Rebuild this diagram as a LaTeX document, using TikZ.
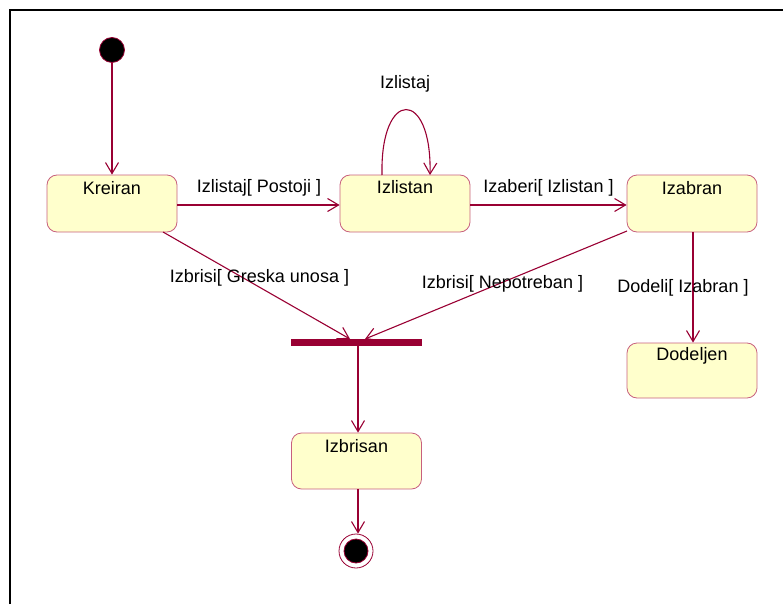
\documentclass[tikz,border=0pt]{standalone}
\usepackage{fontspec}
\setmainfont{Liberation Sans}
\usetikzlibrary{arrows.meta}
\definecolor{umlline}{HTML}{990033}
\definecolor{umlborder}{HTML}{C8607E}
\definecolor{umlfill}{HTML}{FFFFCC}
\tikzset{
  statebox/.style={draw=umlborder, fill=umlfill, rounded corners=10pt, line width=0.8pt, minimum width=130pt, minimum height=57pt, inner sep=0pt},
  statename/.style={anchor=base, inner sep=0pt, font=\fontsize{18pt}{21pt}\selectfont},
  translabel/.style={anchor=base, inner sep=0pt, font=\fontsize{18pt}{21pt}\selectfont},
  trans/.style={draw=umlline, line width=1.1pt, -{Straight Barb[length=11pt,width=13pt,line width=1.1pt]}},
}
\begin{document}
\begin{tikzpicture}[x=1pt,y=-1pt]
\useasboundingbox (0,0) rectangle (783,604);
% frame
\draw[line width=2.6pt, black] (10,604) -- (10,10) -- (783,10);
% initial
\node[circle, fill=black, draw=umlline, line width=0.8pt, minimum size=25pt, inner sep=0pt] (init) at (112,50) {};
% states
\node[statebox] (kreiran) at (112,203.5) {};
\node[statename] (kreiranT) at (112,194) {Kreiran};
\node[statebox] (izlistan) at (405,203.5) {};
\node[statename] (izlistanT) at (405,193) {Izlistan};
\node[statebox] (izabran) at (692,203.5) {};
\node[statename] (izabranT) at (692,194) {Izabran};
\node[statebox, minimum height=55pt] (dodeljen) at (692,370.5) {};
\node[statename] (dodeljenT) at (692,360) {Dodeljen};
\node[statebox, minimum height=56pt] (izbrisan) at (356.5,461) {};
\node[statename] (izbrisanT) at (356.5,452) {Izbrisan};
% sync bar
\node[fill=umlline, minimum width=131pt, minimum height=7pt, inner sep=0pt] (bar) at (356.5,342.5) {};
% final
\node[circle, draw=umlline, fill=white, line width=0.8pt, minimum size=34pt, inner sep=0pt] (final) at (356,551) {};
\node[circle, fill=black, draw=umlline, line width=0.8pt, minimum size=24pt, inner sep=0pt] (finalIn) at (356,551) {};
% coordinates
\coordinate (kB) at (163,232);
\coordinate (barL) at (350,339);
\coordinate (barR) at (365,339);
\coordinate (zB) at (627,231);
\coordinate (loopS) at (382,175);
\coordinate (loopE) at (430,175);
% transitions
\draw[trans] (init) -- (kreiran);
\draw[trans] (kreiran.east |- 0,205) -- (izlistan.west |- 0,205);
\draw[trans] (izlistan.east |- 0,205) -- (izabran.west |- 0,205);
\draw[trans] (kB) -- (barL);
\draw[trans] (zB) -- (barR);
\draw[trans] (bar.south -| 358,0) -- (izbrisan.north -| 358,0);
\draw[trans] (izbrisan.south -| 358,0) -- (final.north -| 358,0);
\draw[trans] (izabran.south -| 693,0) -- (dodeljen.north -| 693,0);
\draw[trans] (loopS) .. controls (380,88) and (432,88) .. (loopE);
% labels
\node[translabel] (l1) at (405,89) {Izlistaj};
\node[translabel] (l2) at (259,192) {Izlistaj[ Postoji ]};
\node[translabel] (l3) at (548.5,192) {Izaberi[ Izlistan ]};
\node[translabel] (l4) at (259.5,282) {Izbrisi[ Greska unosa ]};
\node[translabel] (l5) at (502.5,288) {Izbrisi[ Nepotreban ]};
\node[translabel] (l6) at (683,292) {Dodeli[ Izabran ]};
\end{tikzpicture}
\end{document}
